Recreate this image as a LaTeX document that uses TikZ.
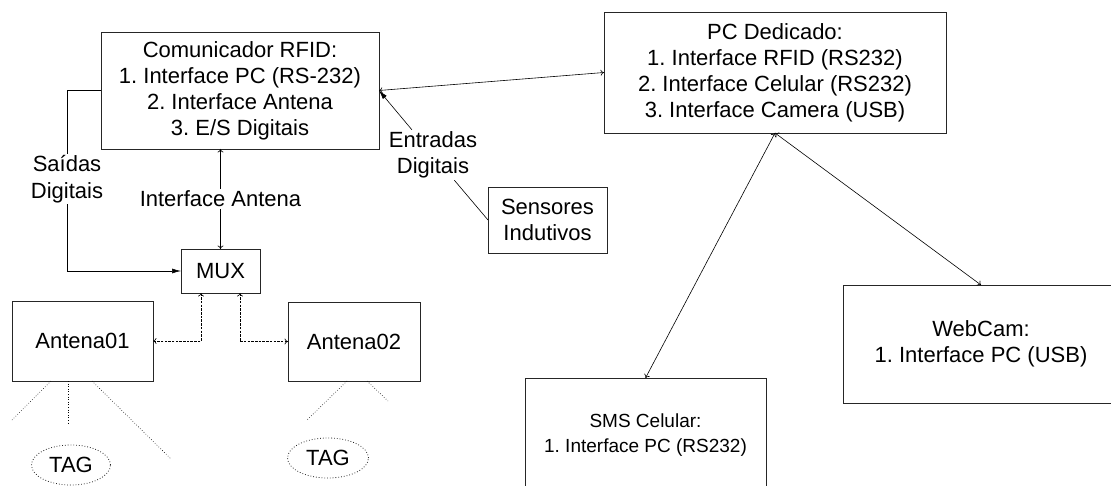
\documentclass[tikz,border=0pt]{standalone}
\usepackage{fontspec}
\setmainfont{Liberation Sans}
\usetikzlibrary{arrows.meta,calc,shapes.geometric}
\begin{document}
\frenchspacing
\begin{tikzpicture}[x=1pt,y=-1pt,
  box/.style={draw=black!85,line width=0.9pt,inner sep=0pt,outer sep=0pt,align=center,font=\fontsize{22}{26}\selectfont},
  smallbox/.style={box,font=\fontsize{19}{25}\selectfont},
  lbl/.style={fill=white,inner sep=1.5pt,align=center,font=\fontsize{22}{26.5}\selectfont},
  conn/.style={line width=0.6pt,{To[length=3.5pt,width=6pt]}-{To[length=3.5pt,width=6pt]}},
  dconn/.style={conn,dash pattern=on 2.5pt off 1.2pt},
  fconn/.style={line width=0.6pt,-{Latex[length=9pt,width=5pt]}},
  ray/.style={line width=0.6pt,dotted},
  tag/.style={draw=black!85,line width=0.8pt,dotted,ellipse,inner sep=0pt,font=\fontsize{22}{26}\selectfont}
]
\useasboundingbox (0,0) rectangle (1111,486);

% boxes
\node[box,minimum width=278pt,minimum height=117pt] (com) at (240,90.5)
  {Comunicador RFID:\\1. Interface PC (RS-232)\\2. Interface Antena\\3. E/S Digitais};
\node[box,minimum width=342pt,minimum height=121pt] (pc) at (775,72.5)
  {PC Dedicado:\\1. Interface RFID (RS232)\\2. Interface Celular (RS232)\\3. Interface Camera (USB)};
\node[box,minimum width=119pt,minimum height=66pt] (sens) at (547.5,220)
  {Sensores\\Indutivos};
\node[box,minimum width=79pt,minimum height=44pt] (mux) at (220.5,271) {MUX};
\node[box,minimum width=141pt,minimum height=80pt] (a1) at (82.5,341) {Antena01};
\node[box,minimum width=132pt,minimum height=79pt] (a2) at (354,341.5) {Antena02};
\node[smallbox,minimum width=241pt,minimum height=115pt] (sms) at (645.5,435.5)
  {SMS Celular:\\1. Interface PC (RS232)};
\node[box,minimum width=276pt,minimum height=118pt] (web) at (981,344)
  {WebCam:\\1. Interface PC (USB)};
\node[tag,minimum width=79pt,minimum height=40pt] (tag1) at (71,465) {TAG};
\node[tag,minimum width=81pt,minimum height=40pt] (tag2) at (328,458) {TAG};

% connectors
\draw[conn] (com.east) -- (pc.west);
\draw[conn] (pc.south) -- (sms.north);
\draw[conn] (pc.south) -- (web.north);
\draw[conn] (mux.north) -- (mux.north |- com.south);
\coordinate (bend) at (67,271);
\draw[fconn] (com.west) -| (bend) -- (mux.west);
\draw[dconn] ($(mux.south west)+(20,0)$) |- (a1.east);
\draw[dconn] ($(mux.south west)+(59,0)$) |- (a2.west);

% labels
\node[lbl] (sai) at (67,179) {Saídas\\Digitais};
\node[lbl] (ia) at (220.5,199) {Interface Antena};
\node[lbl,fill=none] (ent) at (433,155) {Entradas\\Digitais};
\draw[fconn] (ent) -- (com.east);
\draw[line width=0.6pt] (ent) -- (sens.west);

% antenna rays
\draw[ray] ($(a1.south west)+(39,0)$) -- ++(-39,39);
\draw[ray] ($(a1.south west)+(56,0)$) -- ++(0,42);
\draw[ray] ($(a1.south west)+(80,0)$) -- ++(79,78);
\draw[ray] ($(a2.south west)+(59,0)$) -- ++(-40,39);
\draw[ray] ($(a2.south west)+(79,0)$) -- ++(21,20);
\end{tikzpicture}
\end{document}
